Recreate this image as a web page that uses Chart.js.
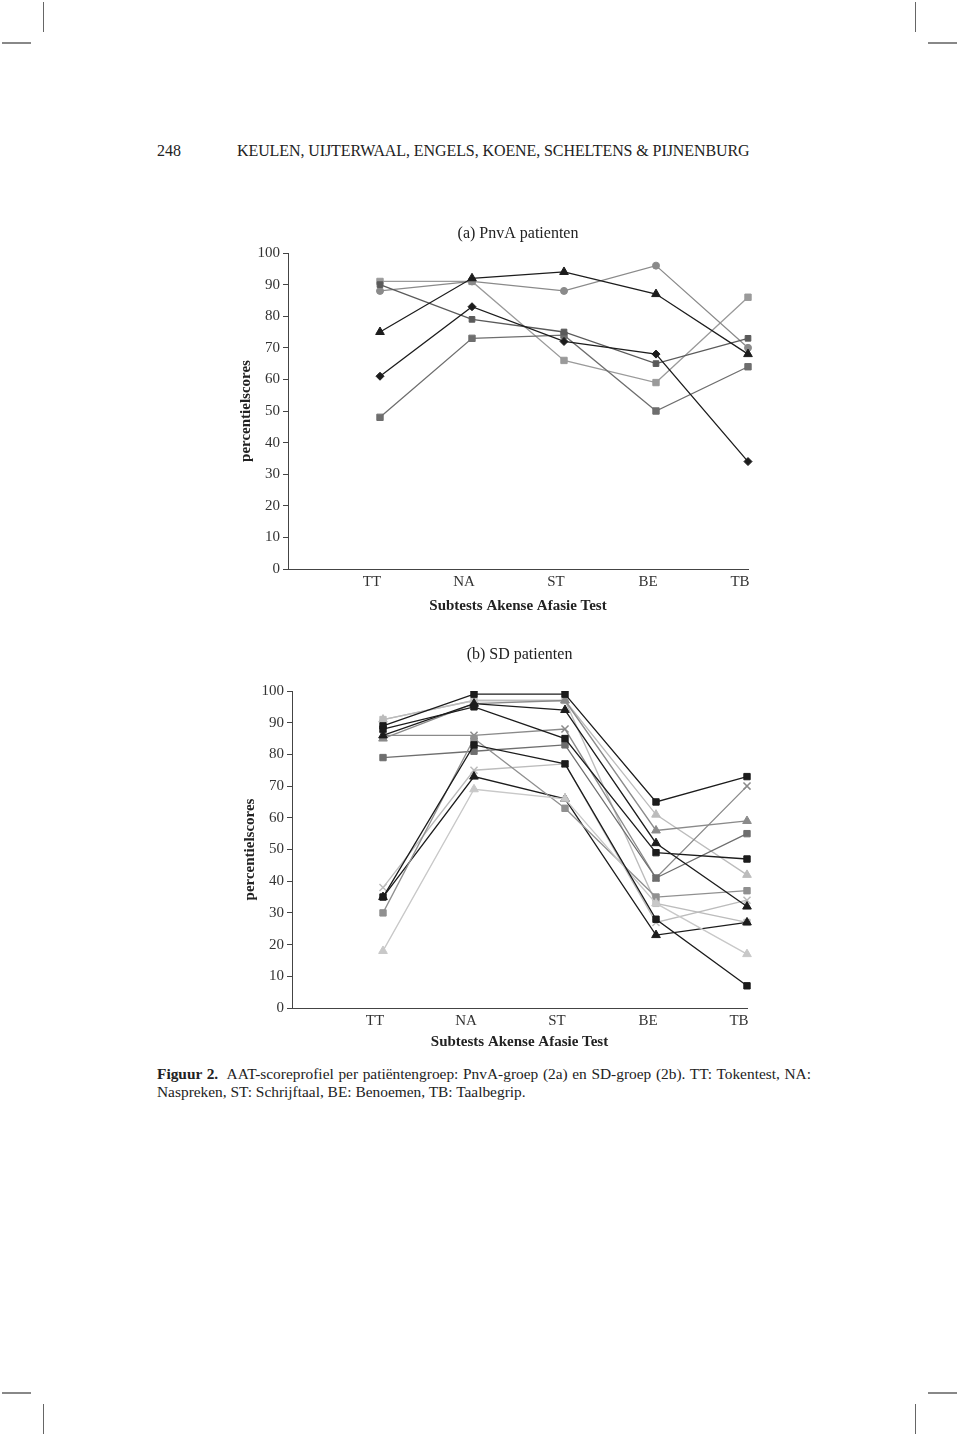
<!DOCTYPE html>
<html>
<head>
<meta charset="utf-8">
<script src="https://cdn.jsdelivr.net/npm/chart.js@4"></script>
<style>
    body { margin: 0; background: #fff; }
    #page { position: relative; width: 960px; height: 1436px; font-family: "Liberation Serif", "DejaVu Serif", serif; color: #222; overflow: hidden; }
    .txt { position: absolute; white-space: nowrap; font-size: 16px; line-height: 18px; }
    .cap { position: absolute; left: 157px; width: 654px; font-size: 15.4px; line-height: 18px; white-space: nowrap; }
    .cap.full { text-align: justify; text-align-last: justify; }
    canvas { position: absolute; }
    .vmark { position: absolute; width: 1px; background: #666; }
    .hmark { position: absolute; height: 2px; background: #888; }
</style>
</head>
<body>
<div id="page">
    <div class="vmark" style="left:43px; top:2px; height:30px;"></div>
    <div class="hmark" style="left:2px; top:42px; width:29px;"></div>
    <div class="vmark" style="left:915px; top:2px; height:30px;"></div>
    <div class="hmark" style="left:928px; top:42px; width:29px;"></div>
    <div class="hmark" style="left:2px; top:1392px; width:29px;"></div>
    <div class="vmark" style="left:43px; top:1404px; height:30px;"></div>
    <div class="hmark" style="left:928px; top:1392px; width:29px;"></div>
    <div class="vmark" style="left:915px; top:1404px; height:30px;"></div>

    <div class="txt" style="left:157px; top:142px;">248</div>
    <div class="txt" style="left:237px; top:142px; letter-spacing:-0.09px;">KEULEN, UIJTERWAAL, ENGELS, KOENE, SCHELTENS &amp; PIJNENBURG</div>

    <canvas id="chart-a" width="600" height="440" style="left:200px; top:200px;"></canvas>
    <canvas id="chart-b" width="600" height="440" style="left:200px; top:620px;"></canvas>

    <div class="cap full" style="top:1065px;"><b>Figuur 2.</b>&nbsp; AAT-scoreprofiel per patiëntengroep: PnvA-groep (2a) en SD-groep (2b). TT: Tokentest, NA:</div>
    <div class="cap" style="top:1083px;">Naspreken, ST: Schrijftaal, BE: Benoemen, TB: Taalbegrip.</div>
</div>

<script>
// categories and tick labels
const categories = ['TT', 'NA', 'ST', 'BE', 'TB'];
const yTickValues = [0, 10, 20, 30, 40, 50, 60, 70, 80, 90, 100];

// (a) PnvA patienten
const pnvaLightSquare = [91, 91, 66, 59, 86];
const pnvaCircle = [88, 91, 88, 96, 70];
const pnvaDarkSquare = [90, 79, 75, 65, 73];
const pnvaTriangle = [75, 92, 94, 87, 68];
const pnvaDiamond = [61, 83, 72, 68, 34];
const pnvaMidSquare = [48, 73, 74, 50, 64];

// (b) SD patienten
const sd1 = [89, 99, 99, 65, 73];
const sd2 = [88, 95, 85, 49, 47];
const sd3 = [86, 96, 94, 52, 32];
const sd4 = [86, 86, 88, 41, 70];
const sd5 = [79, 81, 83, 41, 55];
const sd6 = [91, 97, 97, 33, 27];
const sd7 = [91, 97, 97, 61, 42];
const sd8 = [85, 96, 97, 56, 59];
const sd9 = [35, 83, 77, 28, 7];
const sd10 = [38, 75, 77, 27, 34];
const sd11 = [35, 73, 66, 23, 27];
const sd12 = [30, 85, 63, 35, 37];
const sd13 = [18, 69, 66, 33, 17];

Chart.defaults.font.family = '"Liberation Serif", "DejaVu Serif", serif';
Chart.defaults.color = '#222';

function line(values, color, style, radius) {
    return {
        data: [null].concat(values),
        borderColor: color,
        backgroundColor: color,
        borderWidth: 1.3,
        pointStyle: style,
        pointRadius: radius,
        pointBorderWidth: style === 'crossRot' ? 1.5 : 1,
        pointBackgroundColor: color,
        pointBorderColor: color,
        tension: 0
    };
}

function makeChart(id, title, datasets, g) {
    new Chart(document.getElementById(id), {
        type: 'line',
        data: {
            labels: [''].concat(categories),
            datasets: datasets
        },
        options: {
            responsive: false,
            animation: false,
            events: [],
            layout: { padding: { left: g.padL, right: g.padR, top: g.padT, bottom: g.padB } },
            plugins: {
                legend: { display: false },
                tooltip: { enabled: false },
                title: {
                    display: true,
                    text: title,
                    fullSize: false,
                    font: { size: 16, weight: 'normal' },
                    color: '#222',
                    padding: { top: 0, bottom: g.titleGap }
                }
            },
            scales: {
                x: {
                    type: 'category',
                    offset: false,
                    grid: { display: false, drawTicks: false },
                    border: { display: true, color: '#444', width: 1 },
                    ticks: { font: { size: 15 }, color: '#333', autoSkip: false, maxRotation: 0, labelOffset: -8, padding: 4 },
                    title: { display: true, text: 'Subtests Akense Afasie Test', font: { size: 15, weight: 'bold' }, color: '#222', padding: { top: 4, bottom: 4 } },
                    afterFit(scale) { scale.height = g.xH; }
                },
                y: {
                    min: 0,
                    max: 100,
                    afterBuildTicks(scale) { scale.ticks = yTickValues.map(v => ({ value: v })); },
                    grid: { drawOnChartArea: false, drawTicks: true, tickLength: 5, color: '#444' },
                    border: { display: true, color: '#444', width: 1 },
                    ticks: { font: { size: 15 }, color: '#333', padding: 3 },
                    title: { display: true, text: 'percentielscores', font: { size: 15, weight: 'bold' }, color: '#222', padding: { top: 4, bottom: 4 } },
                    afterFit(scale) { scale.width = 55; }
                }
            }
        }
    });
}

const black = '#1c1c1c';

makeChart('chart-a', '(a) PnvA patienten', [
    line(pnvaDiamond, black, 'rectRot', 4),
    line(pnvaTriangle, black, 'triangle', 5),
    line(pnvaDarkSquare, '#5a5a5a', 'rect', 4),
    line(pnvaMidSquare, '#6e6e6e', 'rect', 4.5),
    line(pnvaCircle, '#8a8a8a', 'circle', 3.5),
    line(pnvaLightSquare, '#9a9a9a', 'rect', 4.5)
], { padL: 33, padR: 52, padT: 23.8, padB: 21, titleGap: 10, xH: 50 });

// first dataset is drawn on top
makeChart('chart-b', '(b) SD patienten', [
    line(sd1, black, 'rect', 4.5),
    line(sd2, black, 'rect', 4.5),
    line(sd3, black, 'triangle', 5),
    line(sd9, black, 'rect', 4.5),
    line(sd13, '#c8c8c8', 'triangle', 5),
    line(sd12, '#909090', 'rect', 4.5),
    line(sd11, black, 'triangle', 5),
    line(sd5, '#6e6e6e', 'rect', 4.5),
    line(sd4, '#8a8a8a', 'crossRot', 5),
    line(sd8, '#8a8a8a', 'triangle', 5),
    line(sd6, '#bcbcbc', 'rect', 4.5),
    line(sd7, '#bcbcbc', 'triangle', 5),
    line(sd10, '#bcbcbc', 'crossRot', 5)
], { padL: 37, padR: 53, padT: 24.8, padB: 5, titleGap: 27, xH: 47 });
</script>
</body>
</html>
